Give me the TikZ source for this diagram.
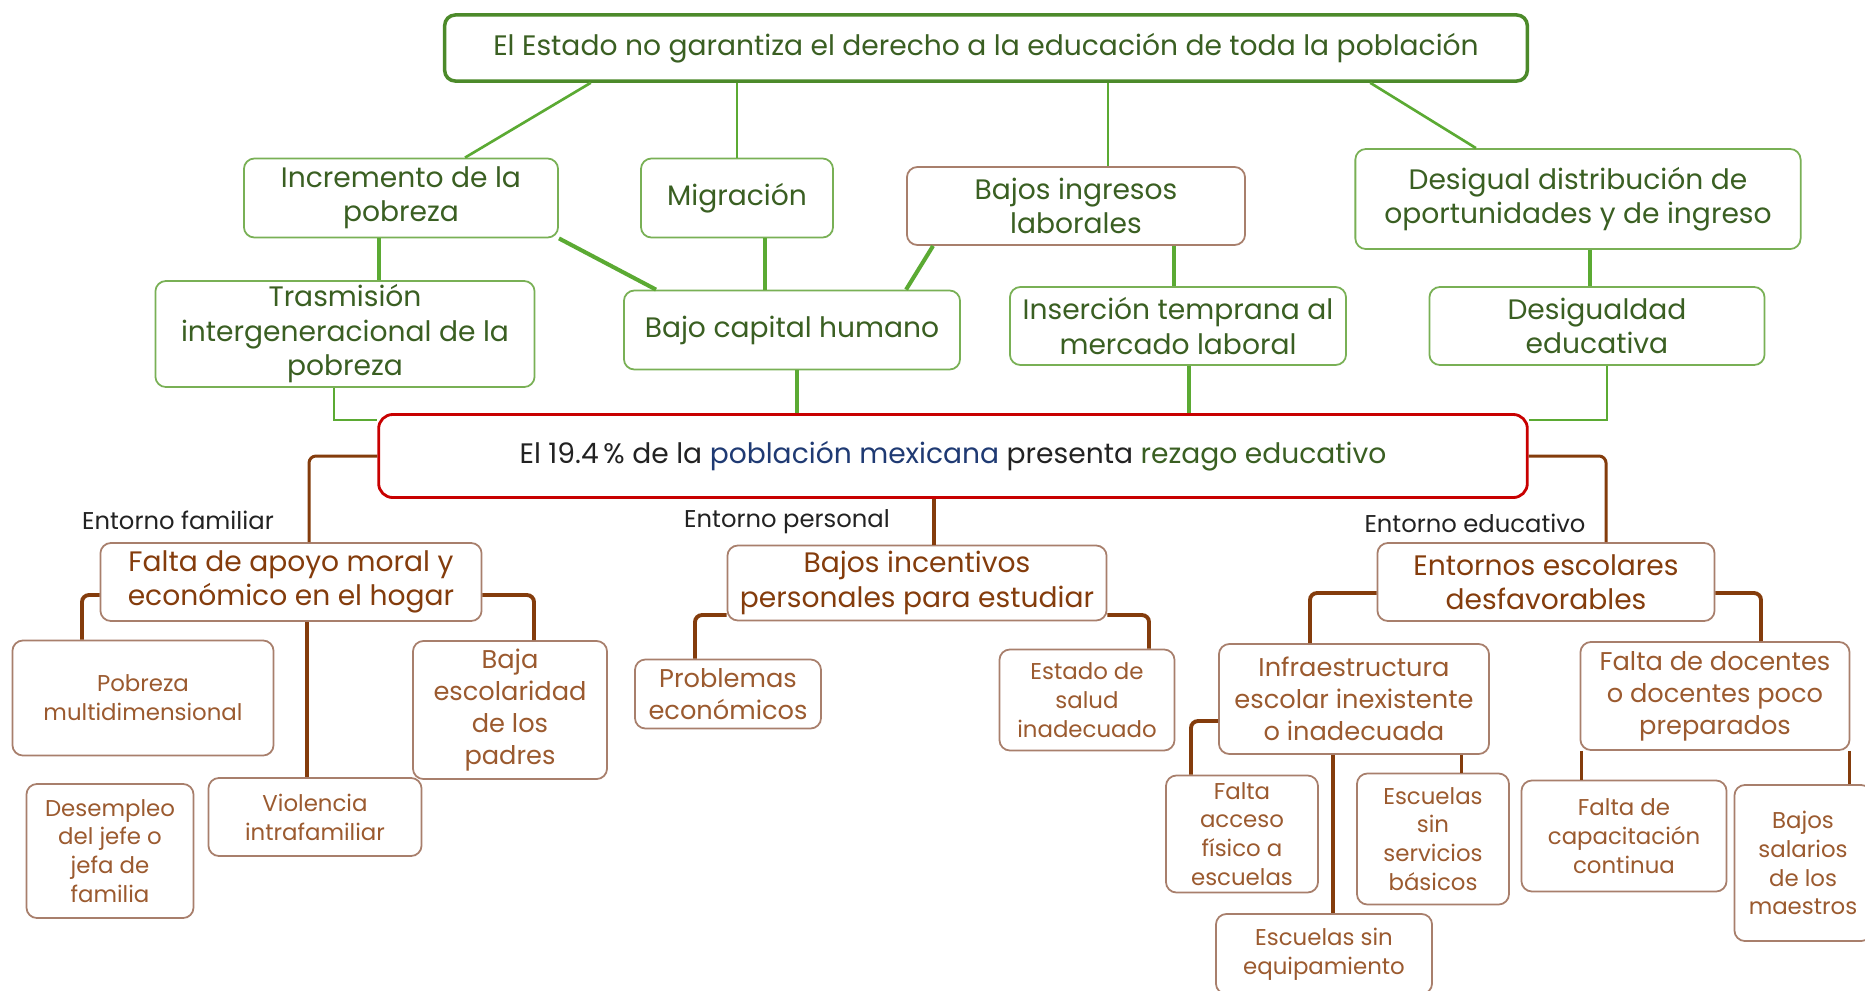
\documentclass[tikz,border=0pt]{standalone}
\usepackage{fontspec}
\setmainfont{Poppins}
\usepackage{tikz}
\definecolor{gtext}{HTML}{3A5F22}
\definecolor{gline}{HTML}{5BAA33}
\definecolor{gtop}{HTML}{4C8A2A}
\definecolor{gborder}{HTML}{79B055}
\definecolor{btext}{HTML}{843C0C}
\definecolor{bsoft}{HTML}{9B5A2F}
\definecolor{bline}{HTML}{843C0C}
\definecolor{bborder}{HTML}{A87F6C}
\definecolor{redb}{HTML}{C80000}
\definecolor{navy}{HTML}{1F3A73}
\definecolor{ink}{HTML}{222222}
\newcommand{\fsmain}{\fontsize{8.0}{9.8}\selectfont}
\newcommand{\fsmid}{\fontsize{7.3}{9.1}\selectfont}
\newcommand{\fssmall}{\fontsize{6.5}{8.2}\selectfont}
\newcommand{\fslbl}{\fontsize{6.9}{8.2}\selectfont}
\tikzset{
  gbox/.style={draw=gborder,line width=0.5pt,rounded corners=3pt,align=center,text=gtext,font=\fsmain,inner sep=0pt},
  topbox/.style={gbox,draw=gtop,line width=1pt},
  bbox/.style={draw=bborder,line width=0.5pt,rounded corners=3pt,align=center,text=btext,font=\fsmain,inner sep=0pt},
  cbox/.style={bbox,text=bsoft,font=\fssmall},
  mbox/.style={bbox,text=bsoft,font=\fsmid},
  gthin/.style={draw=gline,line width=0.75pt},
  gthick/.style={draw=gline,line width=1.15pt},
  bthin/.style={draw=bline,line width=0.85pt,rounded corners=2pt},
  bthick/.style={draw=bline,line width=1.1pt,rounded corners=2pt},
  lbl/.style={font=\fslbl,text=ink}}

\begin{document}
\begin{tikzpicture}[x=0.01cm,y=-0.01cm]
\useasboundingbox[fill=white] (0,0) rectangle (1865,990);
% causas
\node[topbox,minimum width=10.82cm,minimum height=0.66cm] (top) at (986,48) {El Estado no garantiza el derecho a la educación de toda la población};
\node[gbox,minimum width=3.14cm,minimum height=0.79cm] (inc) at (401,198) {Incremento de la\\pobreza};
\node[gbox,minimum width=1.92cm,minimum height=0.79cm] (mig) at (737,198) {Migración};
\node[gbox,draw=bborder,minimum width=3.38cm,minimum height=0.78cm] (bi) at (1076,206) {Bajos ingresos\\laborales};
\node[gbox,minimum width=4.45cm,minimum height=1.0cm] (des) at (1578,199) {Desigual distribución de\\oportunidades y de ingreso};
\node[gbox,minimum width=3.79cm,minimum height=1.06cm] (tras) at (345,334) {Trasmisión\\intergeneracional de la\\pobreza};
\node[gbox,minimum width=3.36cm,minimum height=0.79cm] (bch) at (792,330) {Bajo capital humano};
\node[gbox,minimum width=3.36cm,minimum height=0.78cm] (ins) at (1178,326) {Inserción temprana al\\mercado laboral};
\node[gbox,minimum width=3.35cm,minimum height=0.78cm] (desig) at (1597,326) {Desigualdad\\educativa};
% problema central
\node[draw=redb,line width=0.8pt,rounded corners=4pt,font=\fsmain,text=ink,minimum width=11.48cm,minimum height=0.83cm,inner sep=0pt] (ctr) at (953,456) {El 19.4\,\% de la \textcolor{navy}{población mexicana} presenta \textcolor{gtext}{rezago educativo}};
% entornos
\node[lbl] (lfam) at (178,520) {Entorno familiar};
\node[lbl] (lper) at (787,522) {Entorno personal};
\node[lbl] (ledu) at (1475,523) {Entorno educativo};
\node[bbox,minimum width=3.81cm,minimum height=0.78cm] (fam) at (291,582) {Falta de apoyo moral y\\económico en el hogar};
\node[bbox,minimum width=3.79cm,minimum height=0.75cm] (per) at (917,583) {Bajos incentivos\\personales para estudiar};
\node[bbox,minimum width=3.37cm,minimum height=0.78cm] (edu) at (1546,582) {Entornos escolares\\desfavorables};
% familiar
\node[cbox,minimum width=2.61cm,minimum height=1.15cm] (pob) at (143,698) {Pobreza\\multidimensional};
\node[mbox,minimum width=1.94cm,minimum height=1.38cm] (baja) at (510,710) {Baja\\escolaridad\\de los\\padres};
\node[cbox,minimum width=2.13cm,minimum height=0.78cm] (vio) at (315,817) {Violencia\\intrafamiliar};
\node[cbox,minimum width=1.67cm,minimum height=1.34cm] (dese) at (110,851) {Desempleo\\del jefe o\\jefa de\\familia};
% personal
\node[mbox,minimum width=1.86cm,minimum height=0.69cm] (prob) at (728,694) {Problemas\\económicos};
\node[cbox,minimum width=1.75cm,minimum height=1.01cm] (sal) at (1087,700) {Estado de\\salud\\inadecuado};
% educativo
\node[mbox,minimum width=2.70cm,minimum height=1.10cm] (inf) at (1354,699) {Infraestructura\\escolar inexistente\\o inadecuada};
\node[mbox,minimum width=2.69cm,minimum height=1.08cm] (doc) at (1715,696) {Falta de docentes\\o docentes poco\\preparados};
\node[cbox,minimum width=1.52cm,minimum height=1.17cm] (acc) at (1242,834) {Falta\\acceso\\físico a\\escuelas};
\node[cbox,minimum width=1.52cm,minimum height=1.31cm] (serv) at (1433,839) {Escuelas\\sin\\servicios\\básicos};
\node[cbox,minimum width=2.16cm,minimum height=0.80cm] (equ) at (1324,954) {Escuelas sin\\equipamiento};
\node[cbox,minimum width=2.05cm,minimum height=1.11cm] (cap) at (1624,836) {Falta de\\capacitación\\continua};
\node[cbox,minimum width=1.37cm,minimum height=1.56cm] (sala) at (1803,863) {Bajos\\salarios\\de los\\maestros};
% conectores verdes
\draw[gthin] ([xshift=-3.95cm]top.south) -- ([xshift=0.64cm]inc.north);
\draw[gthin] (mig.north) -- (mig.north |- top.south);
\draw[gthin] ([xshift=0.32cm]bi.north) -- ([xshift=0.32cm]bi.north |- top.south);
\draw[gthin] ([xshift=3.84cm]top.south) -- ([xshift=-1.02cm]des.north);
\draw[gthick] ([xshift=-0.22cm]inc.south) -- ([xshift=-0.22cm]inc.south |- tras.north);
\draw[gthick] (inc.south east) -- ([xshift=0.33cm]bch.north west);
\draw[gthick] ([xshift=0.28cm]mig.south) -- ([xshift=0.28cm]mig.south |- bch.north);
\draw[gthick] ([xshift=0.27cm]bi.south west) -- ([xshift=1.14cm]bch.north);
\draw[gthick] ([xshift=0.98cm]bi.south) -- ([xshift=0.98cm]bi.south |- ins.north);
\draw[gthick] ([xshift=0.12cm]des.south) -- ([xshift=0.12cm]des.south |- desig.north);
\draw[gthin] ([xshift=-0.11cm]tras.south) |- ([yshift=-0.07cm]ctr.north west);
\draw[gthick] ([xshift=0.05cm]bch.south) -- ([xshift=0.05cm]bch.south |- ctr.north);
\draw[gthick] ([xshift=0.11cm]ins.south) -- ([xshift=0.11cm]ins.south |- ctr.north);
\draw[gthin] ([xshift=0.1cm]desig.south) |- ([yshift=-0.07cm]ctr.north east);
% conectores cafes
\draw[bthin] (ctr.west) -| ([xshift=0.18cm]fam.north);
\draw[bthick] ([xshift=-0.19cm]ctr.south) -- ([xshift=-0.19cm]ctr.south |- per.north);
\draw[bthin] (ctr.east) -| ([xshift=0.6cm]edu.north);
\draw[bthick] ([yshift=-0.13cm]fam.west) -| ([xshift=-0.61cm]pob.north);
\draw[bthick] ([yshift=-0.13cm]fam.east) -| ([xshift=0.24cm]baja.north);
\draw[bthick] ([xshift=0.16cm]fam.south) -- ([xshift=0.16cm]fam.south |- vio.north);
\draw[bthick] ([yshift=-0.32cm]per.west) -| ([xshift=-0.33cm]prob.north);
\draw[bthick] ([yshift=-0.32cm]per.east) -| ([xshift=0.62cm]sal.north);
\draw[bthick] ([yshift=-0.11cm]edu.west) -| ([xshift=-0.44cm]inf.north);
\draw[bthick] ([yshift=-0.11cm]edu.east) -| ([xshift=0.46cm]doc.north);
\draw[bthick] ([yshift=-0.22cm]inf.west) -| ([xshift=-0.51cm]acc.north);
\draw[bthick] ([xshift=-0.21cm]inf.south) -- ([xshift=-0.21cm]inf.south |- equ.north);
\draw[bthin] ([xshift=1.07cm]inf.south) -- ([xshift=1.07cm]inf.south |- serv.north);
\draw[bthin] ([xshift=-1.33cm]doc.south) -- ([xshift=-1.33cm]doc.south |- cap.north);
\draw[bthin] ([xshift=1.34cm]doc.south) -- ([xshift=1.34cm]doc.south |- sala.north);
\end{tikzpicture}
\end{document}
